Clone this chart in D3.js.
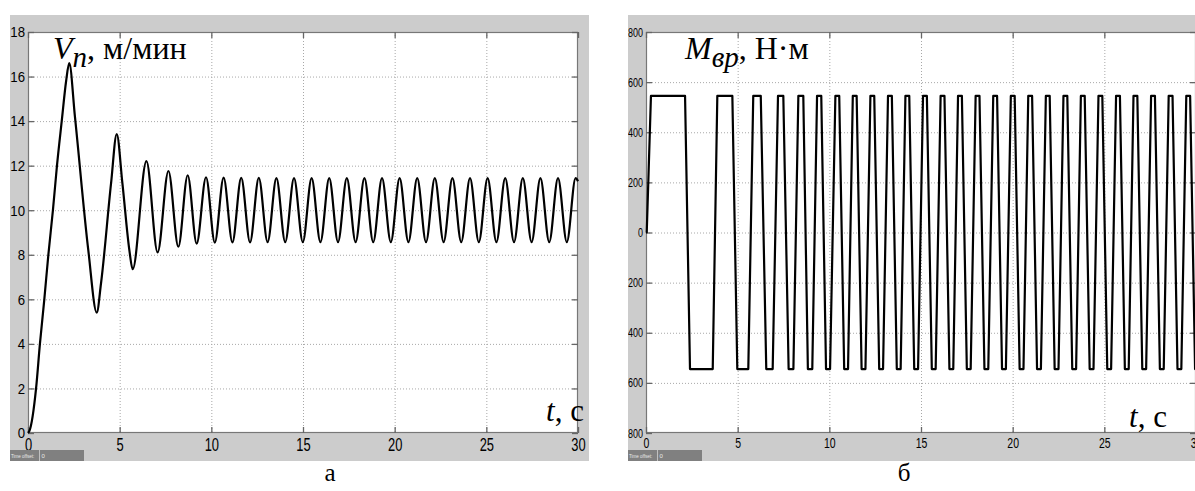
<!DOCTYPE html>
<html>
<head>
<meta charset="utf-8">
<script src="https://cdn.jsdelivr.net/npm/d3@7"></script>
<style>
body { margin: 0; background: #fff; }
svg { display: block; }
</style>
</head>
<body>
<script>
// panel a: carriage speed V_n, m/min (extrema and a few points)
var velT = [0, 0.08, 0.44, 0.65, 0.89, 1.11, 1.36, 1.58, 1.84, 2.08, 2.25,
    2.56, 3.29, 3.75, 3.98, 4.53, 4.84, 5.15, 5.53, 5.71, 6.46, 7.07, 7.66, 8.20, 8.71, 9.20, 9.71,
    10.19, 10.67, 11.15, 11.63, 12.11, 12.59, 13.07, 13.55, 14.03, 14.51, 14.99, 15.47,
    15.95, 16.43, 16.91, 17.39, 17.87, 18.35, 18.83, 19.31, 19.79, 20.27, 20.75, 21.23,
    21.71, 22.19, 22.67, 23.15, 23.63, 24.11, 24.59, 25.07, 25.55, 26.03, 26.51, 26.99,
    27.47, 27.95, 28.43, 28.91, 29.39, 29.87, 30];
var velV = [0, 0.1, 2, 4, 6, 8, 10, 12, 14, 15.8, 16.6,
    14.2, 8.2, 5.4, 6.7, 11.2, 13.42, 11.2, 8.2, 7.35, 12.2, 8.11, 11.76, 8.36, 11.57, 8.5, 11.48,
    8.55, 11.46, 8.56, 11.45, 8.56, 11.45, 8.57, 11.44, 8.57, 11.44, 8.57, 11.44,
    8.57, 11.44, 8.57, 11.44, 8.57, 11.44, 8.57, 11.44, 8.57, 11.44, 8.57, 11.44,
    8.57, 11.44, 8.57, 11.44, 8.57, 11.44, 8.57, 11.44, 8.57, 11.44, 8.57, 11.44,
    8.57, 11.44, 8.57, 11.44, 8.57, 11.44, 11.3];

// panel б: drive torque M_вр, N*m (corners of the trapezoid wave)
var torqueT = [0, 0.04,
    0.27, 2.13, 2.40, 3.64,
    3.89, 4.71, 4.98, 5.58,
    5.85, 6.26, 6.56, 6.91,
    7.20, 7.49, 7.78, 8.04,
    8.31, 8.58, 8.83, 9.07,
    9.33, 9.56, 9.82, 10.04,
    10.33, 10.54, 10.81, 11.02,
    11.28, 11.49, 11.76, 11.97,
    12.24, 12.45, 12.72, 12.93,
    13.20, 13.41, 13.68, 13.89,
    14.15, 14.36, 14.63, 14.84,
    15.11, 15.32, 15.59, 15.80,
    16.07, 16.28, 16.55, 16.76,
    17.02, 17.23, 17.50, 17.71,
    17.98, 18.19, 18.46, 18.67,
    18.94, 19.15, 19.42, 19.63,
    19.90, 20.11, 20.38, 20.59,
    20.85, 21.06, 21.33, 21.54,
    21.81, 22.02, 22.29, 22.50,
    22.77, 22.98, 23.25, 23.46,
    23.72, 23.93, 24.20, 24.41,
    24.68, 24.89, 25.16, 25.37,
    25.64, 25.85, 26.12, 26.33,
    26.59, 26.80, 27.07, 27.28,
    27.55, 27.76, 28.03, 28.24,
    28.51, 28.72, 28.99, 29.20,
    29.47, 29.68, 29.95, 30];
var torqueM = [0, 0,
    545, 545, -545, -545,
    545, 545, -545, -545,
    545, 545, -545, -545,
    545, 545, -545, -545,
    545, 545, -545, -545,
    545, 545, -545, -545,
    545, 545, -545, -545,
    545, 545, -545, -545,
    545, 545, -545, -545,
    545, 545, -545, -545,
    545, 545, -545, -545,
    545, 545, -545, -545,
    545, 545, -545, -545,
    545, 545, -545, -545,
    545, 545, -545, -545,
    545, 545, -545, -545,
    545, 545, -545, -545,
    545, 545, -545, -545,
    545, 545, -545, -545,
    545, 545, -545, -545,
    545, 545, -545, -545,
    545, 545, -545, -545,
    545, 545, -545, -545,
    545, 545, -545, -545,
    545, 545, -545, -545,
    545, 545, -545, -545,
    545, 545, -545, -545];

var timeTicks = [0, 5, 10, 15, 20, 25, 30];
var velTicks = [0, 2, 4, 6, 8, 10, 12, 14, 16, 18];
var torqueTicks = [-800, -600, -400, -200, 0, 200, 400, 600, 800];

var W = 1195, H = 491;
var sans = "'Liberation Sans', Arial, sans-serif";
var serif = "'Liberation Serif', 'Times New Roman', serif";

var svg = d3.select("body").append("svg")
    .attr("width", W)
    .attr("height", H);

function drawPanel(p)
{
    svg.append("clipPath").attr("id", "clip" + p.id)
        .append("rect")
        .attr("x", p.greyX).attr("y", 0)
        .attr("width", p.greyW).attr("height", H);
    var g = svg.append("g").attr("clip-path", "url(#clip" + p.id + ")");

    g.append("rect")
        .attr("x", p.greyX).attr("y", 15)
        .attr("width", p.greyW).attr("height", 446)
        .attr("fill", "#cccccc");

    var x = d3.scaleLinear().domain([0, 30]).range([p.left, p.right]);
    var y = d3.scaleLinear().domain([p.yTicks[0], p.yTicks[p.yTicks.length - 1]]).range([433, 32]);

    g.append("rect")
        .attr("x", p.left).attr("y", 32)
        .attr("width", p.right - p.left).attr("height", 401)
        .attr("fill", "#ffffff");

    // dotted grid
    g.append("g").selectAll("line").data(timeTicks.slice(1, -1)).enter().append("line")
        .attr("x1", d => x(d) + 0.5).attr("x2", d => x(d) + 0.5)
        .attr("y1", 32).attr("y2", 433)
        .attr("stroke", "#a8a8a8").attr("stroke-dasharray", "1,2");
    g.append("g").selectAll("line").data(p.yTicks.slice(1, -1)).enter().append("line")
        .attr("x1", p.left).attr("x2", p.right)
        .attr("y1", d => y(d) + 0.5).attr("y2", d => y(d) + 0.5)
        .attr("stroke", "#a8a8a8").attr("stroke-dasharray", "1,2");

    // frame
    g.append("rect")
        .attr("x", p.left + 0.5).attr("y", 32.5)
        .attr("width", p.right - p.left - 1).attr("height", 400)
        .attr("fill", "none").attr("stroke", "#777777").attr("stroke-width", 1.2);

    // inward ticks on all four sides
    var axB = g.append("g").attr("transform", "translate(0,433)")
        .call(d3.axisBottom(x).tickValues(timeTicks).tickSize(-6).tickPadding(p.xPad));
    var axL = g.append("g").attr("transform", "translate(" + p.left + ",0)")
        .call(d3.axisLeft(y).tickValues(p.yTicks).tickSize(-6).tickPadding(p.yPad));
    g.append("g").attr("transform", "translate(0,32)")
        .call(d3.axisTop(x).tickValues(timeTicks).tickSize(-6).tickFormat(""));
    g.append("g").attr("transform", "translate(" + p.right + ",0)")
        .call(d3.axisRight(y).tickValues(p.yTicks).tickSize(-6).tickFormat(""));
    g.selectAll(".domain").remove();
    g.selectAll(".tick line").attr("stroke", "#666666").attr("stroke-width", 1.3);

    // the scope uses a tall condensed face: squeeze the glyphs sideways
    axB.selectAll("text")
        .attr("font-family", sans).attr("font-size", p.xFont)
        .attr("fill", "#000")
        .attr("transform", "scale(" + p.xScale + ",1)");
    axL.selectAll("text")
        .attr("font-family", sans).attr("font-size", p.yFont)
        .attr("fill", "#000")
        .attr("x", -p.yPad / p.yScale)
        .attr("transform", "scale(" + p.yScale + ",1)");

    var line = d3.line()
        .x(d => x(d[0]))
        .y(d => y(d[1]))
        .curve(p.curve);
    var plotClip = "plot" + p.id;
    svg.append("clipPath").attr("id", plotClip)
        .append("rect")
        .attr("x", p.left - 2).attr("y", 30)
        .attr("width", p.right - p.left + 4).attr("height", 405);
    g.append("g").attr("clip-path", "url(#" + plotClip + ")")
        .append("path")
        .datum(d3.zip(p.t, p.v))
        .attr("d", line)
        .attr("fill", "none")
        .attr("stroke", "#000")
        .attr("stroke-width", 2.2)
        .attr("stroke-linejoin", "round");

    // "Time offset" strip of the scope window
    g.append("rect")
        .attr("x", p.greyX).attr("y", 450)
        .attr("width", 74).attr("height", 11)
        .attr("fill", "#808080");
    g.append("line")
        .attr("x1", p.greyX + 29.5).attr("x2", p.greyX + 29.5)
        .attr("y1", 450).attr("y2", 461)
        .attr("stroke", "#c0c0c0");
    g.append("text")
        .attr("transform", "translate(" + (p.greyX + 1) + ",458) scale(0.75,1)")
        .attr("font-family", sans).attr("font-size", "6px")
        .attr("fill", "#e8e8e8")
        .text("Time offset:");
    g.append("text")
        .attr("x", p.greyX + 31.5).attr("y", 458)
        .attr("font-family", sans).attr("font-size", "6px")
        .attr("fill", "#e8e8e8")
        .text("0");

    // quantity label
    var q = g.append("text")
        .attr("x", p.qx).attr("y", 59)
        .attr("font-family", serif).attr("font-size", "32px");
    q.append("tspan").attr("font-style", "italic").text(p.qSym);
    q.append("tspan").attr("font-style", "italic").attr("dy", 8).attr("font-size", "29px").text(p.qSub);
    q.append("tspan").attr("dy", -8).text(p.qUnit);

    // time label
    var tl = g.append("text")
        .attr("x", p.tx).attr("y", p.ty)
        .attr("font-family", serif).attr("font-size", "31px");
    tl.append("tspan").attr("font-style", "italic").text("t");
    tl.append("tspan").text(", с");

    svg.append("text")
        .attr("x", p.capX).attr("y", 481)
        .attr("text-anchor", "middle")
        .attr("font-family", serif).attr("font-size", "25px")
        .text(p.caption);
}

drawPanel({
    id: "a", greyX: 10, greyW: 579, left: 28, right: 578,
    yTicks: velTicks, t: velT, v: velV, curve: d3.curveMonotoneX,
    xFont: "19px", xScale: 0.68, xPad: 4, yFont: "15px", yScale: 0.88, yPad: 3,
    qx: 53, qSym: "V", qSub: "n", qUnit: ", м/мин",
    tx: 546, ty: 421, capX: 330, caption: "а"
});

drawPanel({
    id: "b", greyX: 628, greyW: 580, left: 646, right: 1196,
    yTicks: torqueTicks, t: torqueT, v: torqueM, curve: d3.curveLinear,
    xFont: "15px", xScale: 0.7, xPad: 4, yFont: "12.5px", yScale: 0.72, yPad: 3,
    qx: 685, qSym: "M", qSub: "вр", qUnit: ", Н·м",
    tx: 1129, ty: 427, capX: 904, caption: "б"
});
</script>
</body>
</html>
